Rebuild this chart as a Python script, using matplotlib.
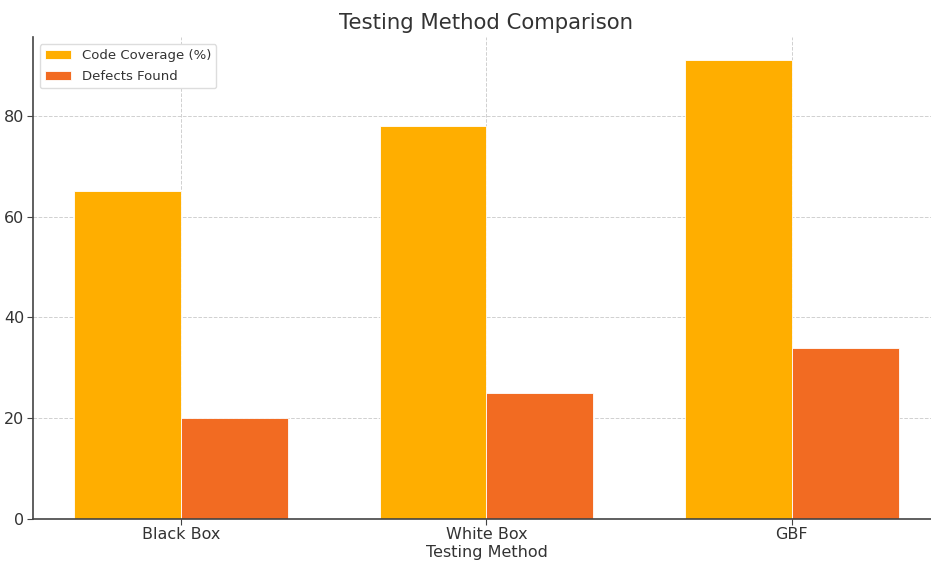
import matplotlib
matplotlib.use("Agg")
import matplotlib.pyplot as plt
import numpy as np

methods = ["Black Box", "White Box", "GBF"]
coverage = [65, 78, 91]
defects = [20, 25, 34]

fig = plt.figure(figsize=(9.31, 5.61), dpi=100)
ax = fig.add_axes([0.0354, 0.0749, 0.9742, 0.8585])

x = np.arange(len(methods))
w = 0.35
ax.bar(x - w/2, coverage, w, color="#FFAE00", edgecolor="white", linewidth=0.6,
       label="Code Coverage (%)", zorder=2)
ax.bar(x + w/2, defects, w, color="#F26B22", edgecolor="white", linewidth=0.6,
       label="Defects Found", zorder=2)

ax.set_xticks(x)
ax.set_xticklabels(methods)
ax.set_xlim(-0.485, 2.485)
ax.set_ylim(0, 95.55)
ax.set_yticks([0, 20, 40, 60, 80])
ax.grid(True, linestyle="--", color="#d0d0d0", linewidth=0.7, zorder=0)
ax.set_axisbelow(True)
for s in ["top", "right"]:
    ax.spines[s].set_visible(False)
for s in ["left", "bottom"]:
    ax.spines[s].set_color("#444444")
    ax.spines[s].set_linewidth(1.2)
ax.tick_params(colors="#333333", labelsize=11.5, length=4, pad=2, color="#444444")
ax.set_xlabel("Testing Method", fontsize=11.5, color="#333333", labelpad=2)
ax.set_title("Testing Method Comparison", fontsize=15.3, color="#333333", pad=6)
leg = ax.legend(loc="upper left", fontsize=9.5, frameon=True, framealpha=1,
                edgecolor="#dddddd", labelspacing=0.6)
for t in leg.get_texts():
    t.set_color("#333333")

fig.savefig("out.png", dpi=100)
